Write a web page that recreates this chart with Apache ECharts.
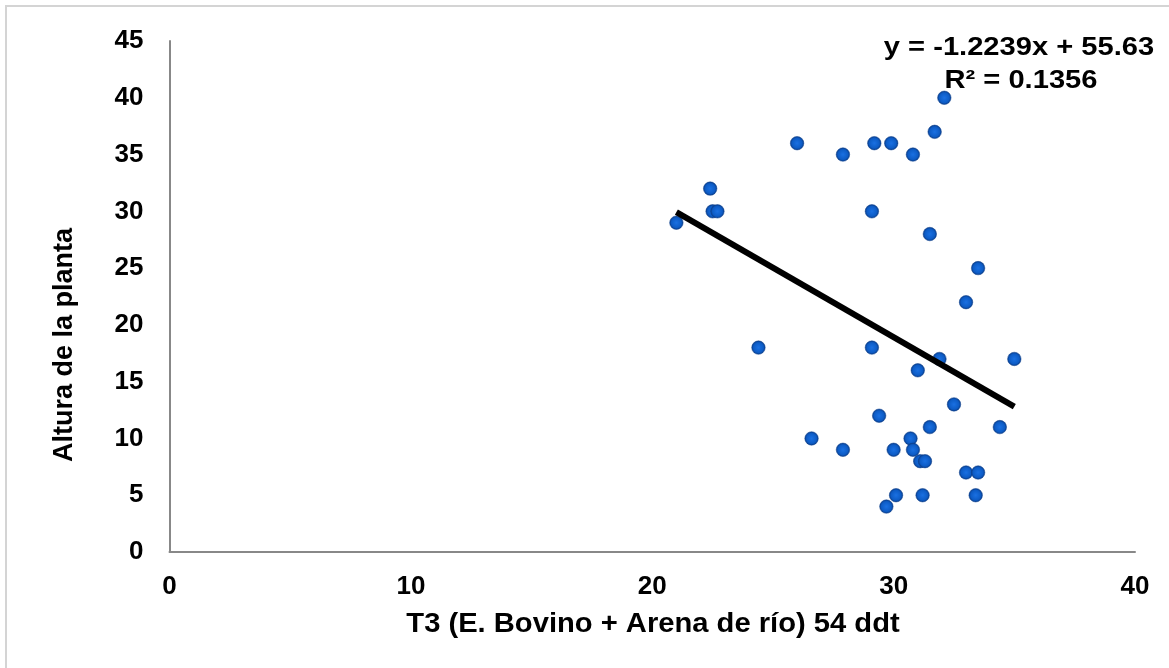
<!DOCTYPE html>
<html>
<head>
<meta charset="utf-8">
<script src="https://cdn.jsdelivr.net/npm/echarts@6/dist/echarts.min.js"></script>
<style>html,body{margin:0;padding:0;background:#fff}#c{width:1169px;height:668px}</style>
</head>
<body>
<div id="c"></div>
<script>
// T3 (E. Bovino + Arena de río) 54 ddt  vs  Altura de la planta
const xValues = [32.1, 31.7, 26.0, 27.9, 29.2, 29.9, 30.8, 22.4, 22.5, 22.7, 21.0, 29.1, 31.5, 33.5, 33.0,
                 24.4, 29.1, 31.9, 35.0, 31.0, 32.5, 29.4, 31.5, 34.4, 26.6, 30.7, 27.9, 30.0, 30.8,
                 31.1, 31.3, 33.0, 33.5, 30.1, 31.2, 33.4, 29.7];
const yValues = [40, 37, 36, 35, 36, 36, 35, 32, 30, 30, 29, 30, 28, 25, 22,
                 18, 18, 17, 17, 16, 13, 12, 11, 11, 10, 10, 9, 9, 9,
                 8, 8, 7, 7, 5, 5, 5, 4];
const xTicks = [0, 10, 20, 30, 40];
const yTicks = [0, 5, 10, 15, 20, 25, 30, 35, 40, 45];
const slope = -1.2239;
const intercept = 55.63;
const equationLabel = 'y = -1.2239x + 55.63';
const r2Label = 'R² = 0.1356';
const xTitle = 'T3 (E. Bovino + Arena de río) 54 ddt';
const yTitle = 'Altura de la planta';

const points = xValues.map((x, i) => [x, yValues[i]]);
const xMin = Math.min(...xValues), xMax = Math.max(...xValues);
const trend = [[xMin, slope * xMin + intercept], [xMax, slope * xMax + intercept]];

const font = '"Liberation Sans", Arial, sans-serif';
const chart = echarts.init(document.getElementById('c'));
chart.setOption({
  animation: false,
  backgroundColor: '#fff',
  grid: { left: 169.5, right: 34, top: 41, bottom: 116, containLabel: false },
  xAxis: {
    type: 'value', min: xTicks[0], max: xTicks[xTicks.length - 1], interval: 10,
    axisLine: { show: true, lineStyle: { color: '#888', width: 2 } },
    axisTick: { show: false }, splitLine: { show: false },
    axisLabel: { margin: 22, color: '#000', fontSize: 26, fontWeight: 'bold', fontFamily: font }
  },
  yAxis: {
    type: 'value', min: yTicks[0], max: yTicks[yTicks.length - 1], interval: 5,
    axisLine: { show: true, onZero: false, lineStyle: { color: '#888', width: 2 } },
    axisTick: { show: false }, splitLine: { show: false },
    axisLabel: { margin: 26, color: '#000', fontSize: 26, fontWeight: 'bold', fontFamily: font }
  },
  graphic: [
    { type: 'rect', shape: { x: 6, y: 6, width: 1300, height: 800 }, style: { fill: 'none', stroke: '#d4d4d4', lineWidth: 2 }, silent: true },
    { type: 'text', x: 653, y: 625, scaleX: 1.08, style: { text: xTitle, textAlign: 'center', textVerticalAlign: 'middle', fontSize: 27, fontWeight: 'bold', fontFamily: font, fill: '#000' } },
    { type: 'text', x: 65, y: 345, rotation: Math.PI / 2, style: { text: yTitle, textAlign: 'center', textVerticalAlign: 'middle', fontSize: 27, fontWeight: 'bold', fontFamily: font, fill: '#000' } },
    { type: 'text', x: 1019, y: 48, scaleX: 1.12, style: { text: equationLabel, textAlign: 'center', textVerticalAlign: 'middle', fontSize: 26, fontWeight: 'bold', fontFamily: font, fill: '#000' } },
    { type: 'text', x: 1021, y: 81, scaleX: 1.12, style: { text: r2Label, textAlign: 'center', textVerticalAlign: 'middle', fontSize: 26, fontWeight: 'bold', fontFamily: font, fill: '#000' } }
  ],
  series: [
    {
      type: 'scatter', data: points, symbol: 'circle', symbolSize: 13.5, z: 2,
      itemStyle: {
        color: { type: 'radial', x: 0.5, y: 0.5, r: 0.5, colorStops: [{ offset: 0, color: '#1a70e2' }, { offset: 0.7, color: '#0d5cc6' }, { offset: 1, color: '#0a3b86' }] },
        borderColor: '#0a3f8c', borderWidth: 0.5, opacity: 1
      }
    },
    {
      type: 'line', data: trend, symbol: 'none', z: 5,
      lineStyle: { color: '#000', width: 6 }
    }
  ]
});
</script>
</body>
</html>
